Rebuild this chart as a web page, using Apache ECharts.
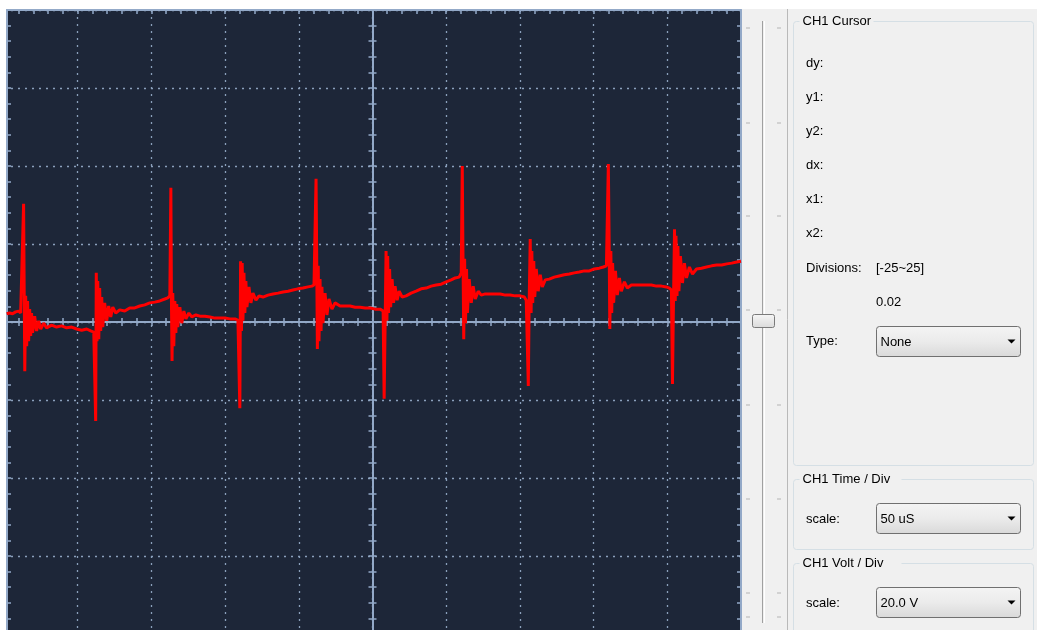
<!DOCTYPE html>
<html>
<head>
<meta charset="utf-8">
<title>CH1 scope</title>
<script src="https://cdn.jsdelivr.net/npm/echarts@6/dist/echarts.min.js"></script>
<style>
html, body { margin: 0; padding: 0; background: #fff; }
#main { width: 1037px; height: 630px; }
</style>
</head>
<body>
<div id="main"></div>
<script>
// CH1 trace: time in uS, level in V
var timeUs = [1.8, 3.8, 5.8, 7.9, 9.9, 11.3, 12.6,
	13.3, 13.7, 14.1, 14.7, 15.4, 16.0, 16.7, 17.4, 18.1, 18.7, 19.4, 20.8, 22.1, 23.5, 24.9, 26.9, 28.9,
	32.3, 35.7, 39.1, 42.5, 45.9, 49.3, 52.7, 56.1, 58.8, 60.9,
	61.9, 62.2, 62.6, 63.1, 63.6, 64.3, 64.9, 65.6, 66.3, 67.0, 68.3, 69.7, 71.0, 72.4, 73.8, 75.8,
	78.5, 81.9, 85.3, 88.7, 92.1, 95.5, 98.9, 102.3, 105.7, 109.1, 111.1, 112.5,
	113.2, 113.6, 114.0, 114.5, 115.2, 115.9, 116.6, 117.2, 117.9, 119.3, 120.6, 122.0, 123.4, 125.4, 127.4,
	130.2, 132.9, 136.3, 139.7, 143.1, 146.5, 149.9, 153.3, 156.7, 158.7,
	159.7, 160.0, 160.5, 161.1, 161.6, 162.1, 162.8, 163.4, 164.1, 164.8, 166.2, 167.5, 168.9, 170.9, 173.0,
	175.7, 179.1, 182.5, 185.9, 189.3, 192.7, 196.0, 199.4, 202.8, 206.2, 208.9, 210.3,
	211.3, 211.7, 212.1, 212.6, 213.2, 213.7, 214.4, 215.1, 215.7, 216.4, 217.8, 219.1, 220.5, 222.5, 224.6,
	228.0, 231.4, 234.8, 238.2, 241.6, 245.0, 248.4, 251.8, 255.1, 257.2,
	257.9, 258.5, 259.2, 259.8, 260.3, 260.9, 261.6, 262.3, 263.3, 264.3, 265.3, 266.7, 268.1, 270.1,
	272.8, 276.2, 279.6, 283.0, 286.4, 289.8, 293.2, 296.6, 300.0, 303.4, 306.1, 308.8,
	310.2, 310.9, 311.3, 311.9, 312.5, 313.1, 313.8, 314.4, 315.6, 317.0, 318.3, 319.7, 321.7, 323.8,
	326.5, 329.9, 333.3, 336.7, 340.1, 343.4, 346.8, 350.2, 353.0, 354.3,
	355.3, 355.7, 356.3, 357.0, 357.6, 358.1, 358.7, 359.4, 360.1, 361.1, 362.4, 363.8, 365.2, 367.2,
	369.9, 373.3, 376.7, 380.1, 383.5, 386.9, 390.3, 393.7, 397.1, 400.5, 403.9, 406.6, 408.7,
	409.7, 410.0, 410.5, 411.0, 411.7, 412.3, 412.9, 413.6, 414.8, 416.1, 417.5, 418.8, 420.9, 422.9,
	425.6, 429.0, 432.4, 435.8, 439.2, 442.6, 446.0, 449.4, 451.4, 452.8,
	453.2, 453.5, 454.2, 454.9, 455.4, 455.9, 456.6, 457.2, 457.9, 458.9, 460.3, 461.6, 463.0, 465.0, 467.1,
	469.8, 473.2, 476.6, 480.1, 483.5, 486.9, 490.3, 493.7, 497.1, 500];
var volts = [2.1, 2.3, 2.1, 2.6, 2.8, 2.3, 2.8,
	30.3, 7.9, -12.6, 6.7, -6.2, 5.4, -4.9, 3.3, -3.6, 2.3, -2.8, 1.5, -2.3, 0.3, -1.8, -0.3, -1.5,
	-0.8, -1.3, -1.0, -1.5, -1.3, -1.8, -2.1, -1.8, -2.3, -2.6,
	-2.8, -25.4, 12.6, -4.9, 10.5, -4.4, 8.7, -2.3, 6.4, -1.3, 4.9, 0.3, 4.1, 1.3, 3.8, 2.3,
	3.1, 2.8, 3.6, 3.6, 4.1, 4.4, 4.9, 5.1, 5.4, 5.9, 6.2, 6.7,
	34.4, 5.4, -10.0, 7.4, -6.2, 5.4, -2.8, 4.6, -1.3, 3.8, -0.3, 2.8, 0.8, 2.3, 1.3,
	1.8, 1.5, 1.5, 1.3, 1.0, 1.0, 1.0, 0.8, 0.8, 0.5,
	0.3, -22.1, 15.6, -2.3, 15.1, 0.3, 12.6, 2.3, 10.5, 3.8, 9.0, 4.9, 7.4, 5.6, 6.7,
	6.4, 6.9, 7.2, 7.4, 7.7, 7.9, 8.2, 8.5, 8.7, 9.0, 9.2, 9.5,
	10.0, 36.7, 19.0, -6.9, 14.4, -4.9, 11.0, -2.3, 9.0, -0.3, 7.4, 1.8, 5.9, 3.3, 4.9,
	4.1, 4.1, 4.1, 3.8, 3.8, 3.6, 3.6, 3.3, 3.3, 2.8,
	-19.7, -2.3, 18.2, 0.3, 16.9, 2.3, 13.6, 3.8, 11.0, 4.9, 9.2, 5.6, 7.9, 6.4,
	6.7, 7.4, 7.9, 8.5, 8.7, 9.2, 9.5, 9.7, 10.3, 10.8, 11.3, 11.5,
	12.6, 40.0, 20.8, -4.4, 16.2, -0.3, 13.6, 2.3, 11.0, 4.9, 9.2, 5.9, 7.9, 6.9,
	7.2, 7.2, 7.2, 7.2, 6.9, 6.9, 6.7, 6.7, 6.4, 5.6,
	5.4, -16.4, 5.4, 21.3, 2.3, 18.2, 4.9, 15.6, 6.4, 13.6, 7.9, 12.1, 9.0, 10.8,
	11.0, 11.5, 11.8, 12.1, 12.3, 12.6, 12.8, 13.1, 13.1, 13.6, 13.8, 14.1, 14.4,
	14.9, 40.5, 22.1, -1.8, 18.2, 2.3, 15.1, 4.9, 13.1, 6.9, 11.3, 7.9, 10.3, 8.7,
	9.5, 9.5, 9.5, 9.5, 9.5, 9.2, 9.2, 9.0, 8.7, 8.2,
	7.9, -15.9, 5.4, 23.8, 5.4, 22.1, 6.7, 19.5, 7.9, 16.9, 10.0, 15.1, 11.3, 14.1, 12.3,
	13.6, 13.8, 14.1, 14.4, 14.6, 14.6, 14.9, 15.1, 15.4, 15.6];

var timeDiv = 50;    // uS / div
var voltDiv = 20;    // V / div
var timeSpan = 500;  // 10 div
var voltSpan = 80;   // 4 div each side

var cursorLabels = ['dy:', 'y1:', 'y2:', 'dx:', 'x1:', 'x2:'];
var divisionsText = '[-25~25]';
var divisionsValue = '0.02';
var cursorType = 'None';
var timeScaleText = '50 uS';
var voltScaleText = '20.0 V';

var axisColor = '#93a9c8';
var gridDotColor = '#8ba0bc';
var font = '13px "Liberation Sans", Arial, sans-serif';

/**
 * one frame / crosshair axis of the scope screen
 */
function xAxisOf(position, onZero, inside, showSplit) {
	return {
		type: 'value',
		position: position,
		min: 0,
		max: timeSpan,
		interval: timeDiv,
		axisLabel: { show: false },
		splitLine: {
			show: showSplit,
			lineStyle: { color: gridDotColor, width: 1.3, type: [2, 5] }
		},
		axisLine: {
			show: true,
			onZero: onZero,
			onZeroAxisIndex: 0,
			lineStyle: { color: axisColor, width: 2 }
		},
		axisTick: { show: true, inside: inside, length: 4, lineStyle: { color: axisColor, width: 1.5 } },
		minorTick: { show: true, splitNumber: 5, length: 4, lineStyle: { color: axisColor, width: 1.5 } }
	};
}

function yAxisOf(position, offset, inside, showSplit) {
	return {
		type: 'value',
		position: position,
		offset: offset,
		min: -voltSpan,
		max: voltSpan,
		interval: voltDiv,
		axisLabel: { show: false },
		splitLine: {
			show: showSplit,
			lineStyle: { color: gridDotColor, width: 1.3, type: [2, 5] }
		},
		axisLine: { show: true, onZero: false, lineStyle: { color: axisColor, width: 2 } },
		axisTick: { show: true, inside: inside, length: 4, lineStyle: { color: axisColor, width: 1.5 } },
		minorTick: { show: true, splitNumber: 5, length: 4, lineStyle: { color: axisColor, width: 1.5 } }
	};
}

function text(str, x, y, extra) {
	var st = { text: str, x: x, y: y, fill: '#000', font: font, verticalAlign: 'middle' };
	return { type: 'text', z: 120, style: Object.assign(st, extra || {}) };
}

function groupBox(title, x, y, w, h) {
	return [{
		type: 'rect', z: 110,
		shape: { x: x, y: y, width: w, height: h, r: 3 },
		style: { fill: 'none', stroke: '#d5dfe5', lineWidth: 1 }
	}, {
		type: 'rect', z: 111,
		shape: { x: x + 6, y: y - 8, width: title.length * 7 + 4, height: 16 },
		style: { fill: '#f0f0f0' }
	}, text(title, x + 9, y)];
}

function comboBox(label, x, y, w, h) {
	return [{
		type: 'rect', z: 110,
		shape: { x: x, y: y, width: w, height: h, r: 3 },
		style: {
			fill: new echarts.graphic.LinearGradient(0, 0, 0, 1, [
				{ offset: 0, color: '#f4f4f4' },
				{ offset: 0.5, color: '#ebebeb' },
				{ offset: 1, color: '#d9d9d9' }
			]),
			stroke: '#707070', lineWidth: 1
		}
	}, text(label, x + 4, y + h / 2 + 1), {
		type: 'polygon', z: 120,
		shape: { points: [[x + w - 13, y + h / 2 - 2], [x + w - 5, y + h / 2 - 2], [x + w - 9, y + h / 2 + 2]] },
		style: { fill: '#000' }
	}];
}

function buildPanel() {
	var g = [];
	// white frame round the screen, grey dialog on the right
	g.push({ type: 'rect', z: 100, shape: { x: 0, y: 0, width: 6, height: 630 }, style: { fill: '#fff' } });
	g.push({ type: 'rect', z: 100, shape: { x: 0, y: 0, width: 1037, height: 9 }, style: { fill: '#fff' } });
	g.push({ type: 'rect', z: 99, shape: { x: 742, y: 8, width: 295, height: 622 }, style: { fill: '#f0f0f0' } });

	// vertical offset slider
	g.push({ type: 'line', z: 110, shape: { x1: 762.5, y1: 21, x2: 762.5, y2: 623 }, style: { stroke: '#a0a0a0', lineWidth: 1 } });
	g.push({ type: 'line', z: 110, shape: { x1: 764.5, y1: 21, x2: 764.5, y2: 623 }, style: { stroke: '#ffffff', lineWidth: 1 } });
	[28, 123, 216, 310, 405, 499, 593, 617].forEach(function(y) {
		g.push({ type: 'line', z: 110, shape: { x1: 746, y1: y, x2: 750, y2: y }, style: { stroke: '#b4b4b4', lineWidth: 1 } });
		g.push({ type: 'line', z: 110, shape: { x1: 777, y1: y, x2: 781, y2: y }, style: { stroke: '#b4b4b4', lineWidth: 1 } });
	});
	g.push({
		type: 'rect', z: 115,
		shape: { x: 752.5, y: 314.5, width: 22, height: 13, r: 2 },
		style: {
			fill: new echarts.graphic.LinearGradient(0, 0, 0, 1, [
				{ offset: 0, color: '#f6f6f6' }, { offset: 1, color: '#dadada' }
			]),
			stroke: '#7a7a7a', lineWidth: 1
		}
	});
	g.push({ type: 'line', z: 110, shape: { x1: 787.5, y1: 9, x2: 787.5, y2: 630 }, style: { stroke: '#b9b9b9', lineWidth: 1 } });

	// CH1 Cursor
	g = g.concat(groupBox('CH1 Cursor', 793.5, 21.5, 240, 444));
	cursorLabels.forEach(function(s, i) {
		g.push(text(s, 806, 63 + i * 34));
	});
	g.push(text('Divisions:', 806, 268));
	g.push(text(divisionsText, 876, 268));
	g.push(text(divisionsValue, 876, 302));
	g.push(text('Type:', 806, 341));
	g = g.concat(comboBox(cursorType, 876.5, 326.5, 144, 30));

	// CH1 Time / Div
	g = g.concat(groupBox('CH1 Time / Div', 793.5, 479.5, 240, 70));
	g.push(text('scale:', 806, 519));
	g = g.concat(comboBox(timeScaleText, 876.5, 503.5, 144, 30));

	// CH1 Volt / Div
	g = g.concat(groupBox('CH1 Volt / Div', 793.5, 563.5, 240, 80));
	g.push(text('scale:', 806, 603));
	g = g.concat(comboBox(voltScaleText, 876.5, 587.5, 144, 30));
	return g;
}

var wave = timeUs.map(function(t, i) {
	return [t, volts[i]];
});

var option = {
	animation: false,
	backgroundColor: '#ffffff',
	grid: {
		left: 4,
		top: 10,
		width: 737,
		height: 624,
		show: true,
		backgroundColor: '#1d2638',
		borderWidth: 0,
		containLabel: false,
		outerBoundsMode: 'none'
	},
	xAxis: [
		xAxisOf('bottom', false, true, true),   // frame bottom, carries the dotted grid
		xAxisOf('top', false, true, false),     // frame top
		xAxisOf('top', true, false, false),     // centre line, ticks up
		xAxisOf('bottom', true, false, false)   // centre line, ticks down
	],
	yAxis: [
		yAxisOf('left', -3, true, true),        // frame left
		yAxisOf('right', 0, true, false),       // frame right
		yAxisOf('left', -368.5, false, false),  // centre line, ticks left
		yAxisOf('left', -368.5, true, false)    // centre line, ticks right
	],
	series: [{
		name: 'CH1',
		type: 'line',
		xAxisIndex: 0,
		yAxisIndex: 0,
		data: wave,
		symbol: 'none',
		clip: true,
		lineStyle: { color: '#ff0000', width: 3 },
		z: 5
	}],
	graphic: buildPanel()
};

var myChart = echarts.init(document.getElementById('main'));
myChart.setOption(option);
</script>
</body>
</html>
